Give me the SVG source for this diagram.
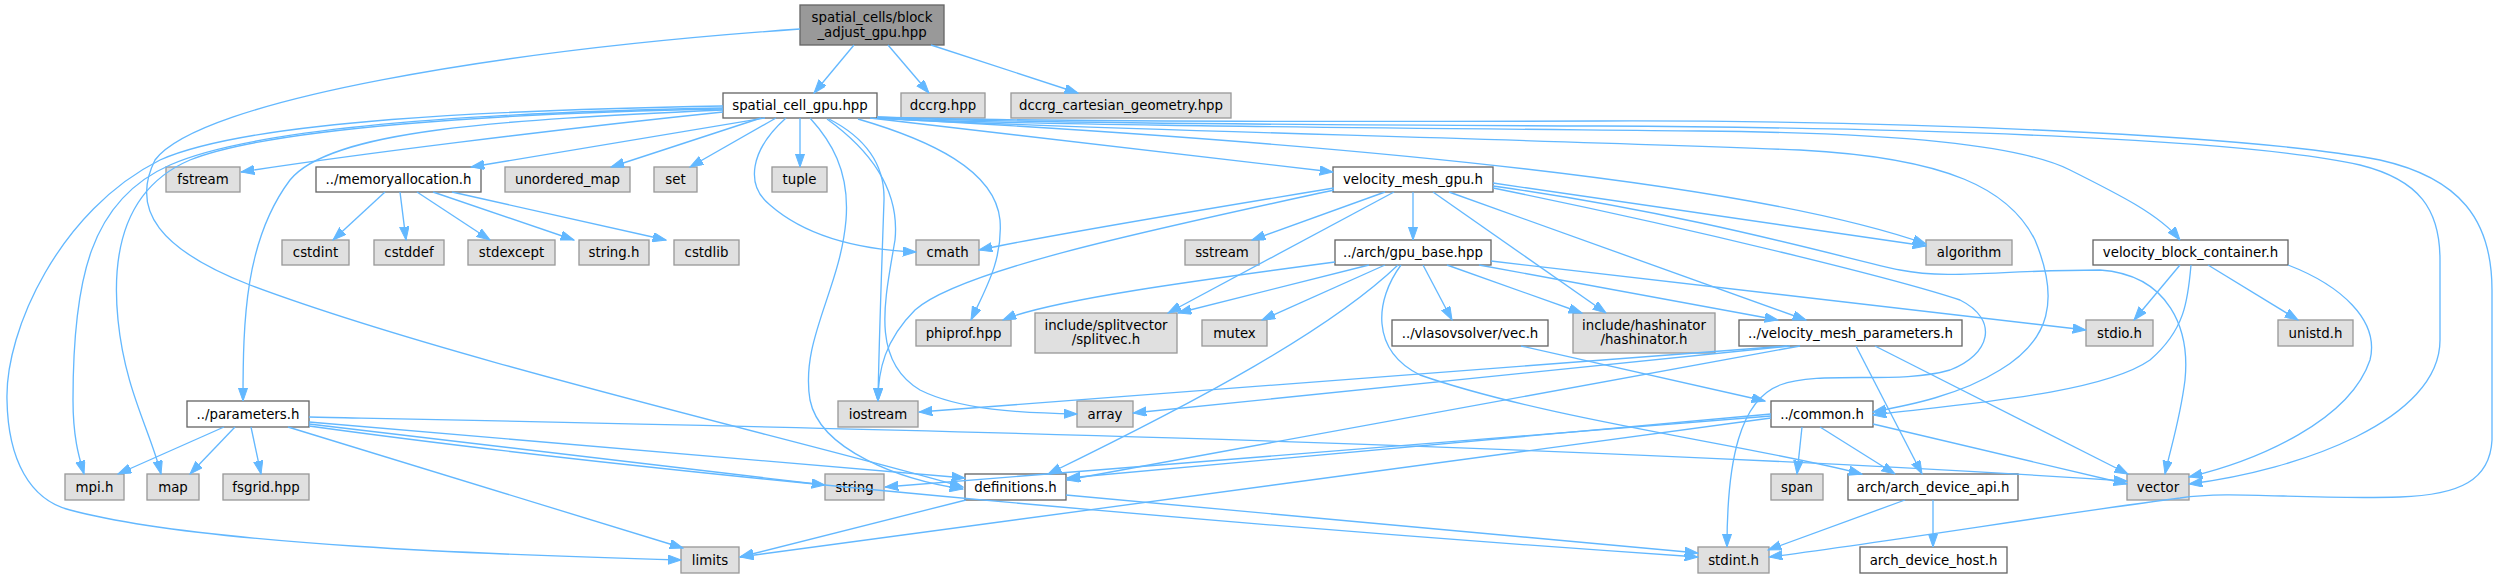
<svg xmlns="http://www.w3.org/2000/svg" width="2497" height="579" viewBox="0 0 2497 579">
<defs>
<style>
.n rect{stroke-width:1.33}
.g rect{fill:#e0e0e0;stroke:#999999}
.w rect{fill:#ffffff;stroke:#666666}
.r rect{fill:#999999;stroke:#666666}
text{font-family:"DejaVu Sans","Liberation Sans",sans-serif;font-size:13.33px;fill:#000;text-anchor:middle}
#edges path{fill:none;stroke:#63b8ff;stroke-width:1.33;marker-end:url(#a)}
</style>
<marker id="a" markerWidth="14" markerHeight="10" refX="13.3" refY="4.67" orient="auto" markerUnits="userSpaceOnUse"><path d="M0,0 L13.3,4.67 L0,9.33 z" fill="#63b8ff" stroke="#63b8ff" stroke-width="1"/></marker>
</defs>
<rect width="2497" height="579" fill="#ffffff"/>
<g id="nodes">
<g id="root" class="n r"><rect x="800" y="5" width="144" height="40"/><text x="872" y="21.5">spatial_cells/block</text><text x="872" y="36.5">_adjust_gpu.hpp</text></g>
<g id="spatial_cell_gpu" class="n w"><rect x="723" y="93" width="154" height="25"/><text x="800" y="110">spatial_cell_gpu.hpp</text></g>
<g id="dccrg" class="n g"><rect x="901" y="93" width="84" height="25"/><text x="943" y="110">dccrg.hpp</text></g>
<g id="dccrg_cart" class="n g"><rect x="1011" y="93" width="220" height="25"/><text x="1121" y="110">dccrg_cartesian_geometry.hpp</text></g>
<g id="fstream" class="n g"><rect x="166" y="167" width="74" height="25"/><text x="203" y="184">fstream</text></g>
<g id="memoryallocation" class="n w"><rect x="316" y="167" width="165" height="25"/><text x="398.5" y="184">../memoryallocation.h</text></g>
<g id="unordered_map" class="n g"><rect x="505" y="167" width="125" height="25"/><text x="567.5" y="184">unordered_map</text></g>
<g id="set" class="n g"><rect x="654" y="167" width="43" height="25"/><text x="675.5" y="184">set</text></g>
<g id="tuple" class="n g"><rect x="772" y="167" width="55" height="25"/><text x="799.5" y="184">tuple</text></g>
<g id="velocity_mesh_gpu" class="n w"><rect x="1333" y="167" width="160" height="25"/><text x="1413" y="184">velocity_mesh_gpu.h</text></g>
<g id="algorithm" class="n g"><rect x="1926" y="240" width="86" height="25"/><text x="1969" y="257">algorithm</text></g>
<g id="velocity_block_container" class="n w"><rect x="2093" y="240" width="195" height="25"/><text x="2190.5" y="257">velocity_block_container.h</text></g>
<g id="cstdint" class="n g"><rect x="282" y="240" width="67" height="25"/><text x="315.5" y="257">cstdint</text></g>
<g id="cstddef" class="n g"><rect x="374" y="240" width="70" height="25"/><text x="409" y="257">cstddef</text></g>
<g id="stdexcept" class="n g"><rect x="468" y="240" width="87" height="25"/><text x="511.5" y="257">stdexcept</text></g>
<g id="string_h" class="n g"><rect x="579" y="240" width="70" height="25"/><text x="614" y="257">string.h</text></g>
<g id="cstdlib" class="n g"><rect x="674" y="240" width="65" height="25"/><text x="706.5" y="257">cstdlib</text></g>
<g id="cmath" class="n g"><rect x="916" y="240" width="63" height="25"/><text x="947.5" y="257">cmath</text></g>
<g id="sstream" class="n g"><rect x="1185" y="240" width="74" height="25"/><text x="1222" y="257">sstream</text></g>
<g id="gpu_base" class="n w"><rect x="1335" y="240" width="156" height="25"/><text x="1413" y="257">../arch/gpu_base.hpp</text></g>
<g id="phiprof" class="n g"><rect x="916" y="320" width="95" height="26"/><text x="963.5" y="337.5">phiprof.hpp</text></g>
<g id="splitvec" class="n g"><rect x="1035" y="313" width="142" height="40"/><text x="1106" y="329.5">include/splitvector</text><text x="1106" y="344">/splitvec.h</text></g>
<g id="mutex" class="n g"><rect x="1202" y="320" width="65" height="26"/><text x="1234.5" y="337.5">mutex</text></g>
<g id="vec" class="n w"><rect x="1392" y="320" width="156" height="26"/><text x="1470" y="337.5">../vlasovsolver/vec.h</text></g>
<g id="hashinator" class="n g"><rect x="1573" y="313" width="142" height="40"/><text x="1644" y="329.5">include/hashinator</text><text x="1644" y="344">/hashinator.h</text></g>
<g id="velocity_mesh_parameters" class="n w"><rect x="1739" y="320" width="223" height="26"/><text x="1850.5" y="337.5">../velocity_mesh_parameters.h</text></g>
<g id="stdio" class="n g"><rect x="2086" y="320" width="67" height="26"/><text x="2119.5" y="337.5">stdio.h</text></g>
<g id="unistd" class="n g"><rect x="2278" y="320" width="75" height="26"/><text x="2315.5" y="337.5">unistd.h</text></g>
<g id="parameters" class="n w"><rect x="187" y="401" width="122" height="26"/><text x="248" y="418.5">../parameters.h</text></g>
<g id="iostream" class="n g"><rect x="838" y="401" width="80" height="26"/><text x="878" y="418.5">iostream</text></g>
<g id="array" class="n g"><rect x="1077" y="401" width="56" height="26"/><text x="1105" y="418.5">array</text></g>
<g id="common" class="n w"><rect x="1771" y="401" width="102" height="26"/><text x="1822" y="418.5">../common.h</text></g>
<g id="mpi" class="n g"><rect x="65" y="474" width="59" height="26"/><text x="94.5" y="491.5">mpi.h</text></g>
<g id="map" class="n g"><rect x="147" y="474" width="52" height="26"/><text x="173" y="491.5">map</text></g>
<g id="fsgrid" class="n g"><rect x="223" y="474" width="86" height="26"/><text x="266" y="491.5">fsgrid.hpp</text></g>
<g id="string" class="n g"><rect x="825" y="474" width="59" height="26"/><text x="854.5" y="491.5">string</text></g>
<g id="definitions" class="n w"><rect x="965" y="474" width="101" height="26"/><text x="1015.5" y="491.5">definitions.h</text></g>
<g id="span" class="n g"><rect x="1771" y="474" width="52" height="26"/><text x="1797" y="491.5">span</text></g>
<g id="arch_device_api" class="n w"><rect x="1848" y="474" width="170" height="26"/><text x="1933" y="491.5">arch/arch_device_api.h</text></g>
<g id="vector" class="n g"><rect x="2127" y="474" width="62" height="26"/><text x="2158" y="491.5">vector</text></g>
<g id="limits" class="n g"><rect x="681" y="547" width="58" height="26"/><text x="710" y="564.5">limits</text></g>
<g id="stdint" class="n g"><rect x="1698" y="547" width="71" height="26"/><text x="1733.5" y="564.5">stdint.h</text></g>
<g id="arch_device_host" class="n w"><rect x="1860" y="547" width="147" height="26"/><text x="1933.5" y="564.5">arch_device_host.h</text></g>
</g>
<g id="edges">
<path d="M854,45 L814,93"/>
<path d="M888,45 L929,93"/>
<path d="M931,45 L1078,93"/>
<path d="M800,29 C500,50 200,100 155,160 C130,210 160,250 250,285 C450,360 800,440 963,487"/>
<path d="M723,112 C550,130 350,155 241,172"/>
<path d="M765,118 L471,167"/>
<path d="M761,118 L611,167"/>
<path d="M776,118 L690,167"/>
<path d="M800,118 L800,167"/>
<path d="M723,110 C500,120 330,130 290,180 C245,240 243,320 243,401"/>
<path d="M723,106 C500,110 250,120 160,160 C60,210 5,330 7,400 C8,460 30,500 70,510 C200,545 500,555 681,560"/>
<path d="M723,108 C500,112 260,125 170,165 C90,200 73,280 73,400 C73,440 80,460 84,474"/>
<path d="M723,109 C500,113 270,128 190,160 C120,190 112,260 118,320 C125,390 150,430 161,474"/>
<path d="M786,118 C750,150 745,185 770,205 C810,240 870,250 916,252"/>
<path d="M810,118 C830,140 850,170 846,220 C840,290 800,340 810,400 C820,450 900,480 963,489"/>
<path d="M829,119 C860,135 885,160 884,200 C882,260 879,340 878,401"/>
<path d="M827,119 C870,150 900,190 895,240 C885,300 870,360 920,390 C960,410 1020,413 1077,414"/>
<path d="M858,119 C930,140 995,170 1000,220 C1003,260 985,290 971,320"/>
<path d="M870,118 L1333,172"/>
<path d="M877,118 C1100,130 1700,165 1926,244"/>
<path d="M877,118 C1000,125 1400,128 1700,131 C1900,133 2020,145 2070,170 C2120,195 2160,215 2180,240"/>
<path d="M877,118 C1000,127 1500,138 1800,150 C1950,158 2010,190 2035,240 C2060,300 2050,340 2000,370 C1960,395 1910,405 1873,412"/>
<path d="M877,117 C1000,123 1300,125 1600,126 C1950,128 2250,140 2360,165 C2420,180 2440,210 2440,260 L2440,340 C2440,420 2300,470 2189,484"/>
<path d="M877,117 C1000,121 1300,122 1600,121 C1900,120 2250,135 2380,160 C2460,178 2492,220 2492,290 L2492,440 C2490,480 2460,495 2400,497 C2300,500 2230,490 2180,498 C2050,515 1900,540 1769,557"/>
<path d="M385,192 L333,240"/>
<path d="M400,192 L406,240"/>
<path d="M417,192 L490,240"/>
<path d="M433,192 L574,240"/>
<path d="M452,192 L666,240"/>
<path d="M1334,188 C1200,210 1050,235 979,250"/>
<path d="M1334,190 C1150,230 960,270 915,310 C885,340 878,370 878,401"/>
<path d="M1394,192 L1168,313"/>
<path d="M1385,192 L1252,240"/>
<path d="M1413,192 L1413,240"/>
<path d="M1433,192 L1606,313"/>
<path d="M1449,192 L1806,320"/>
<path d="M1493,183 L1926,246"/>
<path d="M1493,186 C1700,215 1850,260 1900,270 C1950,280 2000,270 2100,270 C2170,275 2190,330 2185,380 C2180,420 2170,450 2165,474"/>
<path d="M1493,188 C1700,230 1900,280 1960,300 C2000,320 1990,355 1950,370 C1900,385 1820,370 1780,385 C1740,400 1727,460 1727,547"/>
<path d="M1335,262 C1200,280 1050,300 1003,320"/>
<path d="M1369,265 L1178,313"/>
<path d="M1385,265 L1262,320"/>
<path d="M1398,265 C1330,330 1200,400 1048,474"/>
<path d="M1401,265 C1375,300 1370,350 1420,375 C1550,420 1750,445 1862,474"/>
<path d="M1423,265 L1452,320"/>
<path d="M1447,265 L1582,313"/>
<path d="M1479,265 L1778,320"/>
<path d="M1491,261 L2086,330"/>
<path d="M1787,346 L919,412"/>
<path d="M1790,346 L1133,413"/>
<path d="M1800,346 L1067,480"/>
<path d="M1856,346 L1922,474"/>
<path d="M1875,346 L2128,474"/>
<path d="M1521,346 L1765,401"/>
<path d="M1771,416 L885,487"/>
<path d="M1771,414 L1067,478"/>
<path d="M1771,418 L740,557"/>
<path d="M1802,427 L1797,474"/>
<path d="M1820,427 L1895,474"/>
<path d="M1873,424 L2127,484"/>
<path d="M2180,265 L2134,320"/>
<path d="M2208,265 L2298,320"/>
<path d="M2288,265 C2340,285 2380,320 2370,360 C2350,420 2260,460 2189,477"/>
<path d="M2191,265 C2188,300 2185,330 2150,360 C2100,395 1950,405 1873,415"/>
<path d="M1905,500 L1768,550"/>
<path d="M1933,500 L1933,547"/>
<path d="M966,500 L740,557"/>
<path d="M1066,495 L1698,553"/>
<path d="M224,427 L118,474"/>
<path d="M235,427 L190,474"/>
<path d="M251,427 L261,474"/>
<path d="M288,427 L683,548"/>
<path d="M309,424 L825,485"/>
<path d="M309,422 L965,478"/>
<path d="M309,426 C700,480 1300,530 1698,557"/>
<path d="M309,417 C700,425 1500,440 2127,481"/>
</g>
</svg>
